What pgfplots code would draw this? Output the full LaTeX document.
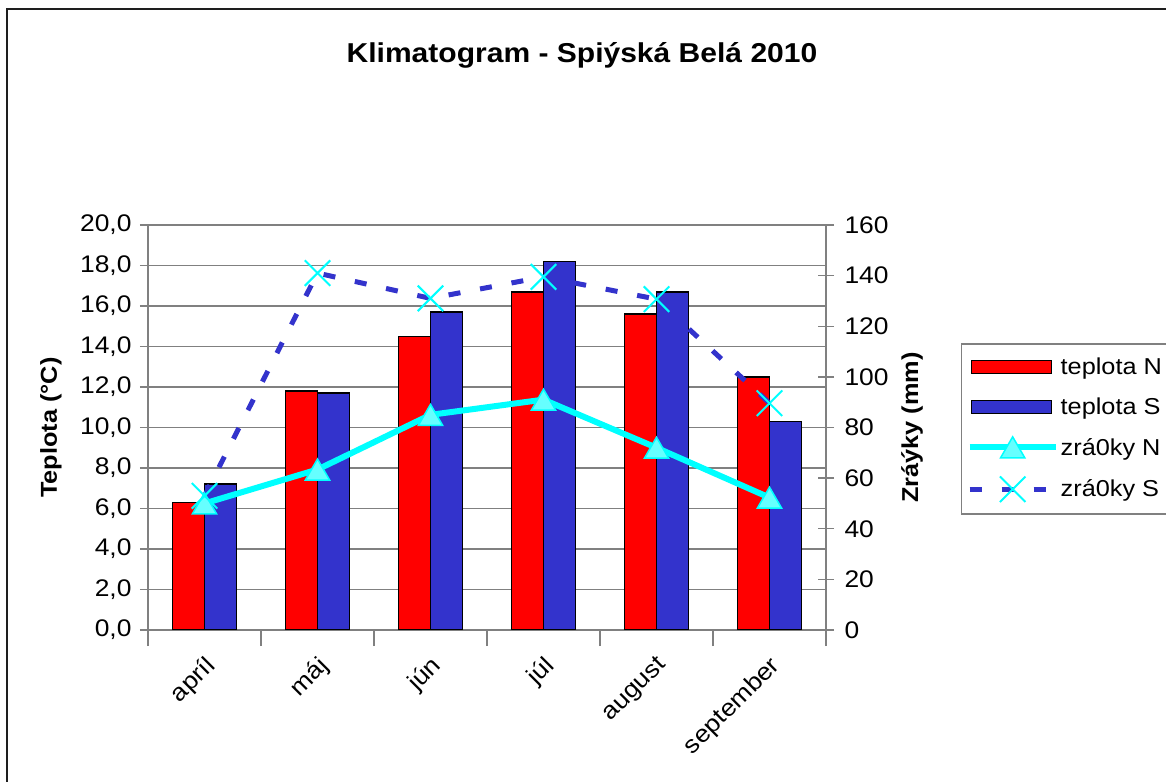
\documentclass[border=0pt]{standalone}
\usepackage{pgfplots}
\pgfplotsset{compat=1.18}
\usepackage{fontspec}
\setmainfont{Liberation Sans}[FakeStretch=1.1]
\definecolor{cRed}{RGB}{255,0,0}
\definecolor{cBlue}{RGB}{51,51,204}
\definecolor{cCyan}{RGB}{0,255,255}
\definecolor{cCyanL}{RGB}{102,255,255}
\definecolor{cGrid}{RGB}{128,128,128}
\definecolor{cFrame}{RGB}{30,30,30}
\pgfplotsset{
 barleg/.style={legend image code/.code={\draw[##1] (0pt,-6.5pt) rectangle (80pt,6.5pt);}},
 lineleg/.style={legend image code/.code={\draw[mark repeat=2,mark phase=2,##1] plot coordinates {(-2pt,0pt)(41pt,0pt)(84pt,0pt)};}},
 common/.style={
  at={(148pt,151pt)}, anchor=south west,
  scale only axis, width=678pt, height=405pt,
  xmin=-0.5, xmax=5.5,
  axis line style={cGrid, line width=1.3pt},
  tick style={cGrid, line width=1.3pt},
  tick align=center, major tick length=16pt, minor tick length=16pt,
  tick label style={font=\fontsize{24}{28}\selectfont},
  label style={font=\fontsize{23}{27}\selectfont\bfseries},
  /pgf/number format/assume math mode=true,
 },
}
\begin{document}
\begin{tikzpicture}[x=1pt,y=1pt]
\useasboundingbox (0,0) rectangle (1166,781);
\draw[cFrame,line width=2pt] (7,-20) -- (7,772) -- (1200,772);
\node[font=\fontsize{27.3}{32}\selectfont\bfseries] at (582,726) {Klimatogram - Spiýská Belá 2010};
\begin{axis}[common,
 ymin=0, ymax=20,
 axis x line*=bottom, axis y line*=left,
 xtick={0,1,2,3,4,5}, xticklabels={apríl,máj,jún,júl,august,september},
 major x tick style={draw=none},
 minor xtick={-0.5,0.5,1.5,2.5,3.5,4.5,5.5},
 xticklabel style={rotate=45, anchor=north east, xshift=-3pt, yshift=-2pt},
 ytick={0,2,...,20},
 yticklabel style={xshift=-5pt, /pgf/number format/.cd, fixed, fixed zerofill, precision=1, use comma},
 ymajorgrids, grid style={cGrid, line width=1.3pt},
 ylabel={Teplota (°C)},
 ylabel style={at={(axis description cs:-0.143,0.5)}, anchor=center},
 ybar, bar width=32pt,
]
\addplot[ybar, bar shift=-16pt, fill=cRed, draw=black, line width=1.5pt] coordinates {(0,6.3) (1,11.8) (2,14.5) (3,16.7) (4,15.6) (5,12.5)};
\addplot[ybar, bar shift=16pt, fill=cBlue, draw=black, line width=1.5pt] coordinates {(0,7.2) (1,11.7) (2,15.7) (3,18.2) (4,16.7) (5,10.3)};
\end{axis}
\begin{axis}[common,
 ymin=0, ymax=160,
 axis x line=none, axis y line*=right,
 ytick={0,20,...,160},
 yticklabel style={xshift=7pt},
 ylabel={Zráýky (mm)},
 ylabel style={at={(axis description cs:1.1268,0.5)}, anchor=center},
 legend style={at={(axis description cs:1.199,0.7086)}, anchor=north west,
   draw=cGrid, line width=1.5pt, font=\fontsize{23}{27}\selectfont,
   row sep=18pt, inner xsep=5pt, inner ysep=12pt},
 legend cell align=left,
]
\addlegendimage{barleg, fill=cRed, draw=black, line width=1.5pt}
\addlegendentry{teplota N}
\addlegendimage{barleg, fill=cBlue, draw=black, line width=1.5pt}
\addlegendentry{teplota S}
\addplot[cCyan, line width=6pt, mark=triangle*, mark size=14pt,
  mark options={fill=cCyanL, draw=cCyan, line width=1.5pt, solid, yshift=-3.5pt}, lineleg]
  coordinates {(0,50) (1,63.4) (2,85) (3,91) (4,72) (5,52.3)};
\addlegendentry{zrá0ky N}
\addplot[cBlue, line width=5pt, dash pattern=on 12pt off 20pt, mark=x, mark size=18pt,
  mark options={draw=cCyan, line width=2pt, solid}, lineleg]
  coordinates {(0,53) (1,141) (2,131) (3,139.5) (4,130.7) (5,89.6)};
\addlegendentry{zrá0ky S}
\end{axis}
\end{tikzpicture}
\end{document}
